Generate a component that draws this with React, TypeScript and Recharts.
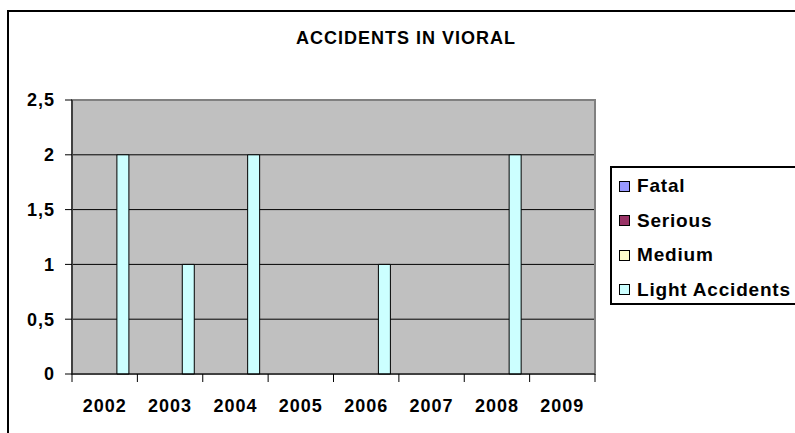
import { BarChart, Bar, XAxis, YAxis, CartesianGrid, ReferenceArea } from 'recharts';

// values (one bar group per year)
const years = ['2002', '2003', '2004', '2005', '2006', '2007', '2008', '2009'];
const fatal = [0, 0, 0, 0, 0, 0, 0, 0];
const serious = [0, 0, 0, 0, 0, 0, 0, 0];
const medium = [0, 0, 0, 0, 0, 0, 0, 0];
const lightAccidents = [2, 1, 2, 0, 1, 0, 2, 0];
const yTicks = [0, 0.5, 1, 1.5, 2, 2.5];

const seriesKeys = ['fatal', 'serious', 'medium', 'light'];
const seriesNames = ['Fatal', 'Serious', 'Medium', 'Light Accidents'];
const seriesColors = ['#9999FF', '#993366', '#FFFFCC', '#CCFFFF'];

const data = years.map((year, i) => ({
  year,
  fatal: fatal[i],
  serious: serious[i],
  medium: medium[i],
  light: lightAccidents[i],
}));

// layout (Excel-ish)
const W = 795;
const H = 433;
const Y_AXIS_W = 72;
const X_AXIS_H = 50;
const MARGIN = { top: 100, right: 200, bottom: 9, left: 0 };
const PLOT_W = W - Y_AXIS_W - MARGIN.right - MARGIN.left;
const HALF_BAND = PLOT_W / years.length / 2;
const X_TICK_SIZE = 8;
const X_TICK_MARGIN = 14;

const FONT = '"Liberation Sans", Arial, sans-serif';
const textStyle = { fontFamily: FONT, fontWeight: 700, fontSize: 18, letterSpacing: 1 };

// ticks sit on the category edges in the original, labels in the middle
const XTick = (props: any) => {
  const { x, y, payload, index } = props;
  const axisY = y - X_TICK_SIZE - X_TICK_MARGIN;
  return (
    <g>
      <line x1={x - HALF_BAND} x2={x - HALF_BAND} y1={axisY} y2={axisY + X_TICK_SIZE} stroke="#000" />
      {index === years.length - 1 && (
        <line x1={x + HALF_BAND} x2={x + HALF_BAND} y1={axisY} y2={axisY + X_TICK_SIZE} stroke="#000" />
      )}
      <text x={x} y={axisY + 38} textAnchor="middle" fill="#000" style={textStyle}>
        {payload.value}
      </text>
    </g>
  );
};

export default function App() {
  return (
    <div style={{ position: 'fixed', left: 0, top: 0, width: W, height: H, overflow: 'hidden', background: '#fff' }}>
      {/* outer chart frame, runs off the right and bottom */}
      <div style={{ position: 'absolute', left: 7, top: 10, width: 900, height: 500, border: '2px solid #000' }} />

      <div
        style={{
          position: 'absolute',
          left: 0,
          top: 28,
          width: 812,
          textAlign: 'center',
          lineHeight: '20px',
          ...textStyle,
        }}
      >
        ACCIDENTS IN VIORAL
      </div>

      <div style={{ position: 'absolute', left: 0, top: 0 }}>
        <BarChart
          width={W}
          height={H}
          data={data}
          margin={MARGIN}
          barCategoryGap="13.6%"
          barGap={0}
        >
          <CartesianGrid
            vertical={false}
            horizontalValues={[0.5, 1, 1.5, 2]}
            stroke="#000"
            fill="#C0C0C0"
            fillOpacity={1}
          />
          <ReferenceArea y1={0} y2={2.5} fill="none" stroke="#808080" strokeWidth={2} />
          <XAxis
            dataKey="year"
            height={X_AXIS_H}
            axisLine={{ stroke: '#000' }}
            tickLine={false}
            tickSize={X_TICK_SIZE}
            tickMargin={X_TICK_MARGIN}
            tick={<XTick />}
            interval={0}
          />
          <YAxis
            width={Y_AXIS_W}
            domain={[0, 2.5]}
            ticks={yTicks}
            axisLine={{ stroke: '#000' }}
            tickLine={{ stroke: '#000' }}
            tickSize={7}
            tickMargin={10}
            tickFormatter={(v: number) => String(v).replace('.', ',')}
            tick={{ fill: '#000', ...textStyle }}
          />
          {seriesKeys.map((k, i) => (
            <Bar
              key={k}
              dataKey={k}
              name={seriesNames[i]}
              fill={seriesColors[i]}
              stroke="#000"
              strokeWidth={1}
              isAnimationActive={false}
            />
          ))}
        </BarChart>
      </div>

      {/* legend box, also cut by the right edge */}
      <div
        style={{
          position: 'absolute',
          left: 610,
          top: 166,
          width: 220,
          height: 134,
          border: '2px solid #000',
          background: '#fff',
          paddingTop: 1,
          boxSizing: 'content-box',
        }}
      >
        {seriesNames.map((name, i) => (
          <div key={name} style={{ display: 'flex', alignItems: 'center', height: 34.5 }}>
            <div
              style={{
                width: 9,
                height: 9,
                marginLeft: 7,
                border: '1px solid #000',
                background: seriesColors[i],
              }}
            />
            <span style={{ marginLeft: 7, lineHeight: '20px', ...textStyle, fontSize: 19, letterSpacing: 0.8 }}>
              {name}
            </span>
          </div>
        ))}
      </div>
    </div>
  );
}
